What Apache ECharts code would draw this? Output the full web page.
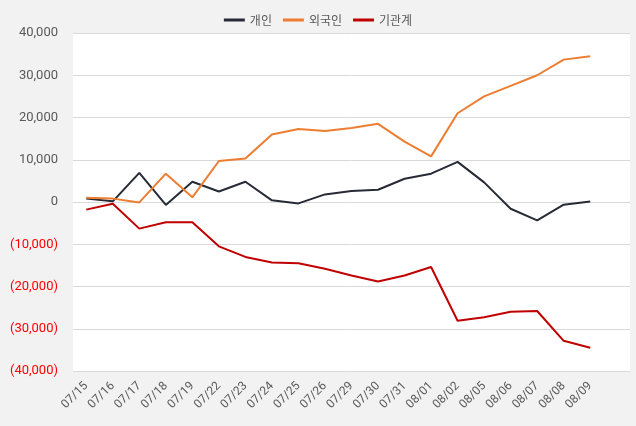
<!DOCTYPE html>
<html><head><meta charset="utf-8">
<script src="https://cdn.jsdelivr.net/npm/echarts@6/dist/echarts.min.js"></script>
<style>html,body{margin:0;padding:0;background:#f2f2f2;}#c{width:636px;height:426px;}</style>
</head><body><div id="c"></div>
<script>
const categories = ['07/15','07/16','07/17','07/18','07/19','07/22','07/23','07/24','07/25','07/26','07/29','07/30','07/31','08/01','08/02','08/05','08/06','08/07','08/08','08/09'];
const individual = [800, 150, 6900, -700, 4800, 2500, 4800, 400, -330, 1800, 2600, 2900, 5500, 6700, 9500, 4650, -1600, -4350, -640, 100];
const foreign = [1000, 800, -100, 6700, 1100, 9700, 10300, 16000, 17300, 16800, 17500, 18500, 14300, 10800, 21000, 25000, 27500, 30000, 33700, 34500];
const institution = [-1800, -400, -6300, -4800, -4800, -10500, -13000, -14300, -14500, -15800, -17400, -18800, -17400, -15400, -28100, -27300, -26000, -25800, -32850, -34500];
const seriesNames = ['개인', '외국인', '기관계'];
const colors = ['#262b36', '#ed7d31', '#c00000'];

const chart = echarts.init(document.getElementById('c'));
function fmt(v){
  const s = Math.abs(v).toLocaleString('en-US');
  return v < 0 ? '{neg|(' + s + ')}' : s;
}
chart.setOption({
  backgroundColor: '#f2f2f2',
  animation: false,
  textStyle: { fontFamily: 'Roboto, "Noto Sans CJK KR", sans-serif' },
  legend: {
    top: 9, left: 'center',
    data: seriesNames,
    icon: 'rect', itemWidth: 21, itemHeight: 3, itemGap: 11,
    textStyle: { color: '#595959', fontSize: 12, fontFamily: '"Noto Sans CJK KR", sans-serif' }
  },
  grid: { left: 73, right: 6, top: 33, bottom: 55, show: true, backgroundColor: '#ffffff', borderWidth: 0 },
  xAxis: {
    type: 'category', data: categories, max: categories.length, boundaryGap: true,
    axisLine: { show: false }, axisTick: { show: false },
    axisLabel: { rotate: 45, color: '#595959', fontSize: 12, margin: 13, interval: 0,
      formatter: function(v){ return v === undefined || v === 'undefined' ? '' : v; } }
  },
  yAxis: {
    type: 'value', min: -40000, max: 40000, interval: 10000,
    axisLine: { show: false }, axisTick: { show: false },
    splitLine: { lineStyle: { color: '#d9d9d9', width: 1 } },
    axisLabel: { color: '#595959', fontSize: 13, margin: 15, formatter: fmt,
      rich: { neg: { color: '#ff0000', fontSize: 13 } } }
  },
  series: [
    { name: seriesNames[0], type: 'line', data: individual, symbol: 'none', lineStyle: { width: 2, color: colors[0] }, itemStyle: { color: colors[0] } },
    { name: seriesNames[1], type: 'line', data: foreign, symbol: 'none', lineStyle: { width: 2, color: colors[1] }, itemStyle: { color: colors[1] } },
    { name: seriesNames[2], type: 'line', data: institution, symbol: 'none', lineStyle: { width: 2, color: colors[2] }, itemStyle: { color: colors[2] } }
  ]
});
</script></body></html>
